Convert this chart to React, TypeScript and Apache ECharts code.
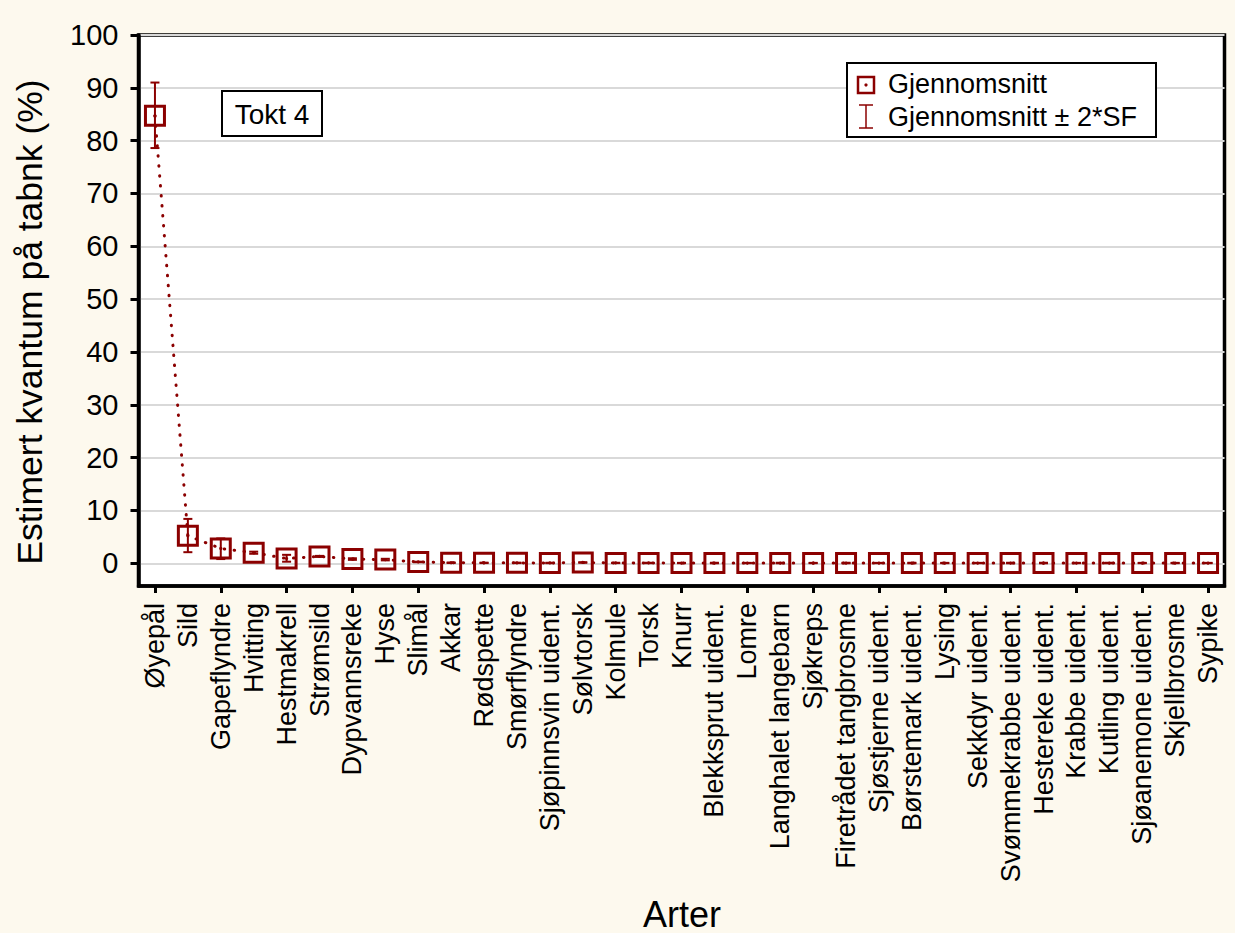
import React, { useEffect, useRef } from "react";
import * as echarts from "echarts";

const categories = [
  "Øyepål", "Sild", "Gapeflyndre", "Hvitting", "Hestmakrell", "Strømsild",
  "Dypvannsreke", "Hyse", "Slimål", "Akkar", "Rødspette", "Smørflyndre",
  "Sjøpinnsvin uident.", "Sølvtorsk", "Kolmule", "Torsk", "Knurr",
  "Blekksprut uident.", "Lomre", "Langhalet langebarn", "Sjøkreps",
  "Firetrådet tangbrosme", "Sjøstjerne uident.", "Børstemark uident.", "Lysing",
  "Sekkdyr uident.", "Svømmekrabbe uident.", "Hestereke uident.", "Krabbe uident.",
  "Kutling uident.", "Sjøanemone uident.", "Skjellbrosme", "Sypike",
];

const means = [
  84.7, 5.2, 2.8, 2.0, 0.9, 1.3, 0.8, 0.7, 0.25, 0.1, 0.08, 0.08,
  0.06, 0.15, 0.07, 0.06, 0.05, 0.05, 0.05, 0.05, 0.05,
  0.05, 0.05, 0.05, 0.05, 0.05, 0.05, 0.05, 0.05,
  0.05, 0.05, 0.05, 0.05,
];

const upper = [
  91.0, 8.4, 4.7, 2.2, 1.6, 1.4, 0.95, 0.85, 0.3, 0.15, 0.12, 0.12,
  0.1, 0.2, 0.1, 0.1, 0.08, 0.1, 0.08, 0.1, 0.08,
  0.1, 0.08, 0.1, 0.08, 0.08, 0.1, 0.1, 0.08,
  0.1, 0.08, 0.08, 0.08,
];

const lower = [
  78.6, 2.1, 0.8, 1.8, 0.3, 1.2, 0.65, 0.55, 0.2, 0.05, 0.04, 0.04,
  0.02, 0.1, 0.04, 0.02, 0.02, 0.0, 0.02, 0.0, 0.02,
  0.0, 0.02, 0.0, 0.02, 0.02, 0.0, 0.0, 0.02,
  0.0, 0.02, 0.02, 0.02,
];

const yTicks = [0, 10, 20, 30, 40, 50, 60, 70, 80, 90, 100];

const DARK_RED = "#8B0000";
const FONT = 'Arial, "Liberation Sans", sans-serif';

export default function App() {
  const ref = useRef<HTMLDivElement>(null);

  useEffect(() => {
    if (!ref.current) return;
    const chart = echarts.init(ref.current, null, { renderer: "svg" });

    const errData = categories.map((_, i) => [i, upper[i], lower[i]]);

    const option: any = {
      animation: false,
      backgroundColor: "#FDF9EE",
      textStyle: { fontFamily: FONT },
      grid: {
        left: 138.5,
        right: 10.5,
        top: 35,
        bottom: 347,
        show: true,
        backgroundColor: "#ffffff",
        borderColor: "#000000",
        borderWidth: 3.5,
      },
      xAxis: {
        type: "category",
        data: categories,
        boundaryGap: true,
        axisLine: { show: true, onZero: false, lineStyle: { color: "#000", width: 3.5 } },
        axisTick: {
          show: true,
          interval: 1,
          alignWithLabel: true,
          length: 7,
          lineStyle: { color: "#000", width: 3 },
        },
        axisLabel: {
          interval: 0,
          rotate: 90,
          margin: 17,
          fontSize: 27,
          color: "#000",
          fontFamily: FONT,
        },
        splitLine: { show: false },
      },
      yAxis: {
        type: "value",
        min: -4.3,
        max: 100,
        interval: 10,
        axisLine: { show: true, lineStyle: { color: "#000", width: 3.5 } },
        axisTick: {
          show: true,
          length: 8,
          lineStyle: { color: "#000", width: 3 },
          customValues: yTicks,
        },
        axisLabel: {
          margin: 20,
          fontSize: 29,
          color: "#000",
          fontFamily: FONT,
          customValues: yTicks,
          formatter: (v: number) => (v < 0 ? "" : String(v)),
        },
        splitLine: { show: true, lineStyle: { color: "#d9d9d9", width: 2 } },
      },
      series: [
        {
          type: "line",
          data: means,
          symbol: "rect",
          symbolSize: 19,
          z: 3,
          lineStyle: { color: DARK_RED, width: 3, type: [0.5, 9.5], cap: "round" },
          itemStyle: { color: "rgba(0,0,0,0)", borderColor: DARK_RED, borderWidth: 3 },
        },
        {
          type: "custom",
          data: errData,
          z: 4,
          renderItem: (params: any, api: any) => {
            const i = api.value(0);
            const hi = api.coord([i, api.value(1)]);
            const lo = api.coord([i, api.value(2)]);
            const mid = api.coord([i, means[i]]);
            const w = 4.5;
            const st = { stroke: DARK_RED, lineWidth: 2 };
            return {
              type: "group",
              children: [
                { type: "line", shape: { x1: hi[0], y1: hi[1], x2: lo[0], y2: lo[1] }, style: st },
                { type: "line", shape: { x1: hi[0] - w, y1: hi[1], x2: hi[0] + w, y2: hi[1] }, style: st },
                { type: "line", shape: { x1: lo[0] - w, y1: lo[1], x2: lo[0] + w, y2: lo[1] }, style: st },
                { type: "circle", shape: { cx: mid[0], cy: mid[1], r: 1.6 }, style: { fill: DARK_RED } },
              ],
            };
          },
        },
      ],
      graphic: [
        {
          type: "text",
          x: 30,
          y: 322,
          rotation: Math.PI / 2,
          style: {
            text: "Estimert kvantum på tabnk (%)",
            fontSize: 35.5,
            fontFamily: FONT,
            fill: "#000",
            align: "center",
            verticalAlign: "middle",
          },
        },
        {
          type: "text",
          x: 682,
          y: 914,
          style: {
            text: "Arter",
            fontSize: 36,
            fontFamily: FONT,
            fill: "#000",
            align: "center",
            verticalAlign: "middle",
          },
        },
        {
          type: "rect",
          shape: { x: 222, y: 91, width: 100, height: 45 },
          style: { fill: "#fff", stroke: "#000", lineWidth: 2 },
          z: 10,
        },
        {
          type: "text",
          x: 272,
          y: 114,
          z: 11,
          style: {
            text: "Tokt 4",
            fontSize: 28,
            fontFamily: FONT,
            fill: "#000",
            align: "center",
            verticalAlign: "middle",
          },
        },
        {
          type: "rect",
          shape: { x: 847, y: 63, width: 309, height: 74 },
          style: { fill: "#fff", stroke: "#000", lineWidth: 2 },
          z: 10,
        },
        {
          type: "rect",
          shape: { x: 858, y: 77, width: 16, height: 16 },
          style: { fill: "#fff", stroke: DARK_RED, lineWidth: 2.5 },
          z: 11,
        },
        {
          type: "circle",
          shape: { cx: 866, cy: 85, r: 1.6 },
          style: { fill: DARK_RED },
          z: 12,
        },
        {
          type: "line",
          shape: { x1: 866, y1: 105, x2: 866, y2: 128 },
          style: { stroke: DARK_RED, lineWidth: 1.5 },
          z: 11,
        },
        {
          type: "line",
          shape: { x1: 859, y1: 105, x2: 873, y2: 105 },
          style: { stroke: DARK_RED, lineWidth: 1.5 },
          z: 11,
        },
        {
          type: "line",
          shape: { x1: 859, y1: 128, x2: 873, y2: 128 },
          style: { stroke: DARK_RED, lineWidth: 1.5 },
          z: 11,
        },
        {
          type: "text",
          x: 888,
          y: 84,
          z: 11,
          style: {
            text: "Gjennomsnitt",
            fontSize: 27,
            fontFamily: FONT,
            fill: "#000",
            align: "left",
            verticalAlign: "middle",
          },
        },
        {
          type: "text",
          x: 888,
          y: 117,
          z: 11,
          style: {
            text: "Gjennomsnitt ± 2*SF",
            fontSize: 27,
            fontFamily: FONT,
            fill: "#000",
            align: "left",
            verticalAlign: "middle",
          },
        },
      ],
    };

    chart.setOption(option);
    return () => chart.dispose();
  }, []);

  return <div ref={ref} style={{ width: 1235, height: 933, position: "absolute", left: 0, top: 0 }} />;
}
